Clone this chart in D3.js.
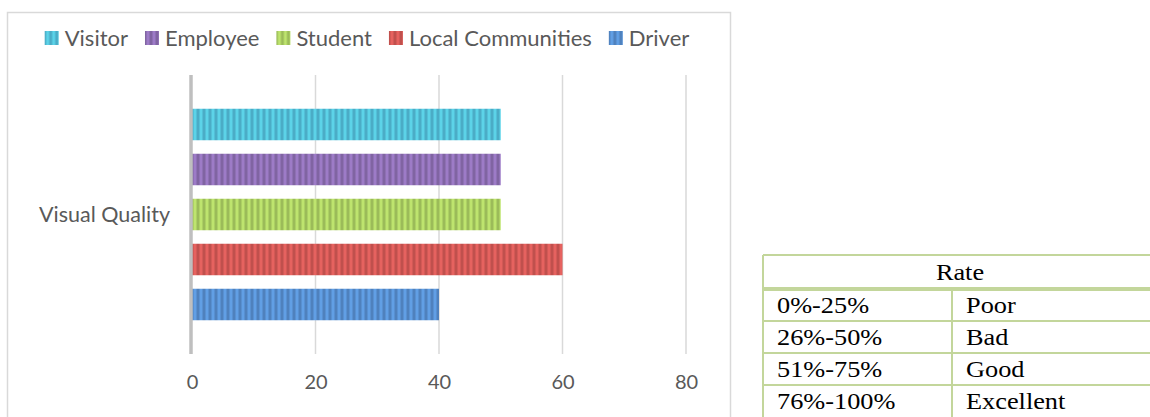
<!DOCTYPE html>
<html lang="en">
<head>
<meta charset="UTF-8">
<title>Visual Quality</title>
<script src="https://d3js.org/d3.v7.min.js"></script>
<style>
  body { margin: 0; background: #fff; }
  svg { display: block; }
</style>
</head>
<body>
<div id="chart"></div>
<script>
// data
var category = "Visual Quality";
var seriesNames = ["Visitor", "Employee", "Student", "Local Communities", "Driver"];
var seriesValues = [50, 50, 50, 60, 40];
var seriesColors = ["#4bacc6", "#8064a2", "#9bbb59", "#c0504d", "#4f81bd"];
var xTicks = [0, 20, 40, 60, 80];
var rateHeader = "Rate";
var rateRanges = ["0%-25%", "26%-50%", "51%-75%", "76%-100%"];
var rateLabels = ["Poor", "Bad", "Good", "Excellent"];

var W = 1150, H = 417;
var sans = "Lato, 'Open Sans', sans-serif";
var svg = d3.select("#chart").append("svg").attr("width", W).attr("height", H);

// chart frame
svg.append("rect")
  .attr("x", 7.5).attr("y", 12.5).attr("width", 723).attr("height", 420)
  .attr("fill", "#fff").attr("stroke", "#d9d9d9").attr("stroke-width", 1.5);

// striped fills
var defs = svg.append("defs");
seriesColors.forEach(function(c, i) {
  var p = defs.append("pattern").attr("id", "stripe" + i)
    .attr("patternUnits", "userSpaceOnUse").attr("width", 6).attr("height", 10);
  p.append("rect").attr("width", 6).attr("height", 10).attr("fill", c);
  p.append("rect").attr("x", 1.5).attr("width", 3).attr("height", 10)
    .attr("fill", d3.color(c).brighter(0.9)).attr("opacity", 0.6);
});

var x = d3.scaleLinear().domain([0, 80]).range([192, 686]);
var y = d3.scaleBand().domain(seriesNames).range([75, 354])
  .paddingInner(0.3).paddingOuter(0.75);

// gridlines
svg.append("g").selectAll("line").data(xTicks.slice(1)).join("line")
  .attr("x1", d => x(d)).attr("x2", d => x(d))
  .attr("y1", 75).attr("y2", 354)
  .attr("stroke", "#d9d9d9").attr("stroke-width", 1.5);

// bars
svg.append("g").selectAll("rect").data(seriesNames).join("rect")
  .attr("x", x(0)).attr("y", d => y(d))
  .attr("width", (d, i) => x(seriesValues[i]) - x(0))
  .attr("height", y.bandwidth())
  .attr("fill", (d, i) => "url(#stripe" + i + ")");

// vertical axis line
svg.append("line")
  .attr("x1", x(0) - 1).attr("x2", x(0) - 1).attr("y1", 75).attr("y2", 354)
  .attr("stroke", "#bfbfbf").attr("stroke-width", 3.5);

// x tick labels
var axis = svg.append("g").attr("transform", "translate(0,354)")
  .call(d3.axisBottom(x).tickValues(xTicks).tickSize(0).tickPadding(21));
axis.select(".domain").remove();
axis.selectAll("text").attr("font-family", sans)
  .attr("font-size", 20).attr("fill", "#595959");

// category label
svg.append("text")
  .attr("x", 170).attr("y", (y(seriesNames[0]) + y(seriesNames[4]) + y.bandwidth()) / 2)
  .attr("dy", "0.35em").attr("text-anchor", "end")
  .attr("font-family", sans).attr("font-size", 21.5)
  .attr("fill", "#595959").text(category);

// legend
var legend = svg.append("g");
var lx = 0;
seriesNames.forEach(function(n, i) {
  var g = legend.append("g").attr("transform", "translate(" + lx + ",0)");
  g.append("rect").attr("x", 0).attr("y", 31).attr("width", 14).attr("height", 14)
    .attr("fill", "url(#stripe" + i + ")");
  var t = g.append("text").attr("x", 20).attr("y", 38).attr("dy", "0.35em")
    .attr("font-family", sans).attr("font-size", 22)
    .attr("fill", "#595959").text(n);
  lx += 20 + t.node().getComputedTextLength() + 17;
});
legend.attr("transform", "translate(" + (367 - (lx - 17) / 2) + ",0)");

// rate table
var tx0 = 763, tx1 = 952, tx2 = 1160;
var rowY = [255, 289, 321, 353, 385, 417];
var tcol = "#c3d69b";
var sx = 1.17;
var table = svg.append("g").attr("font-family", "'Liberation Serif', 'Times New Roman', serif")
  .attr("font-size", 22.5).attr("fill", "#000");
table.append("line").attr("x1", tx0).attr("x2", tx2).attr("y1", rowY[0]).attr("y2", rowY[0])
  .attr("stroke", tcol).attr("stroke-width", 2);
table.append("line").attr("x1", tx0).attr("x2", tx2).attr("y1", rowY[1]).attr("y2", rowY[1])
  .attr("stroke", tcol).attr("stroke-width", 4);
table.selectAll(".rl").data(rowY.slice(2, 5)).join("line").attr("class", "rl")
  .attr("x1", tx0).attr("x2", tx2).attr("y1", d => d).attr("y2", d => d)
  .attr("stroke", tcol).attr("stroke-width", 2);
table.append("line").attr("x1", tx0).attr("x2", tx0).attr("y1", rowY[0]).attr("y2", H)
  .attr("stroke", tcol).attr("stroke-width", 2);
table.append("line").attr("x1", tx1).attr("x2", tx1).attr("y1", rowY[1]).attr("y2", H)
  .attr("stroke", tcol).attr("stroke-width", 2);
table.append("text").attr("transform", "translate(960,280) scale(" + sx + ",1)")
  .attr("text-anchor", "middle").text(rateHeader);
rateRanges.forEach(function(r, i) {
  table.append("text").attr("transform", "translate(777," + (rowY[i + 1] + 24) + ") scale(" + sx + ",1)").text(r);
  table.append("text").attr("transform", "translate(966," + (rowY[i + 1] + 24) + ") scale(" + sx + ",1)").text(rateLabels[i]);
});
</script>
</body>
</html>
